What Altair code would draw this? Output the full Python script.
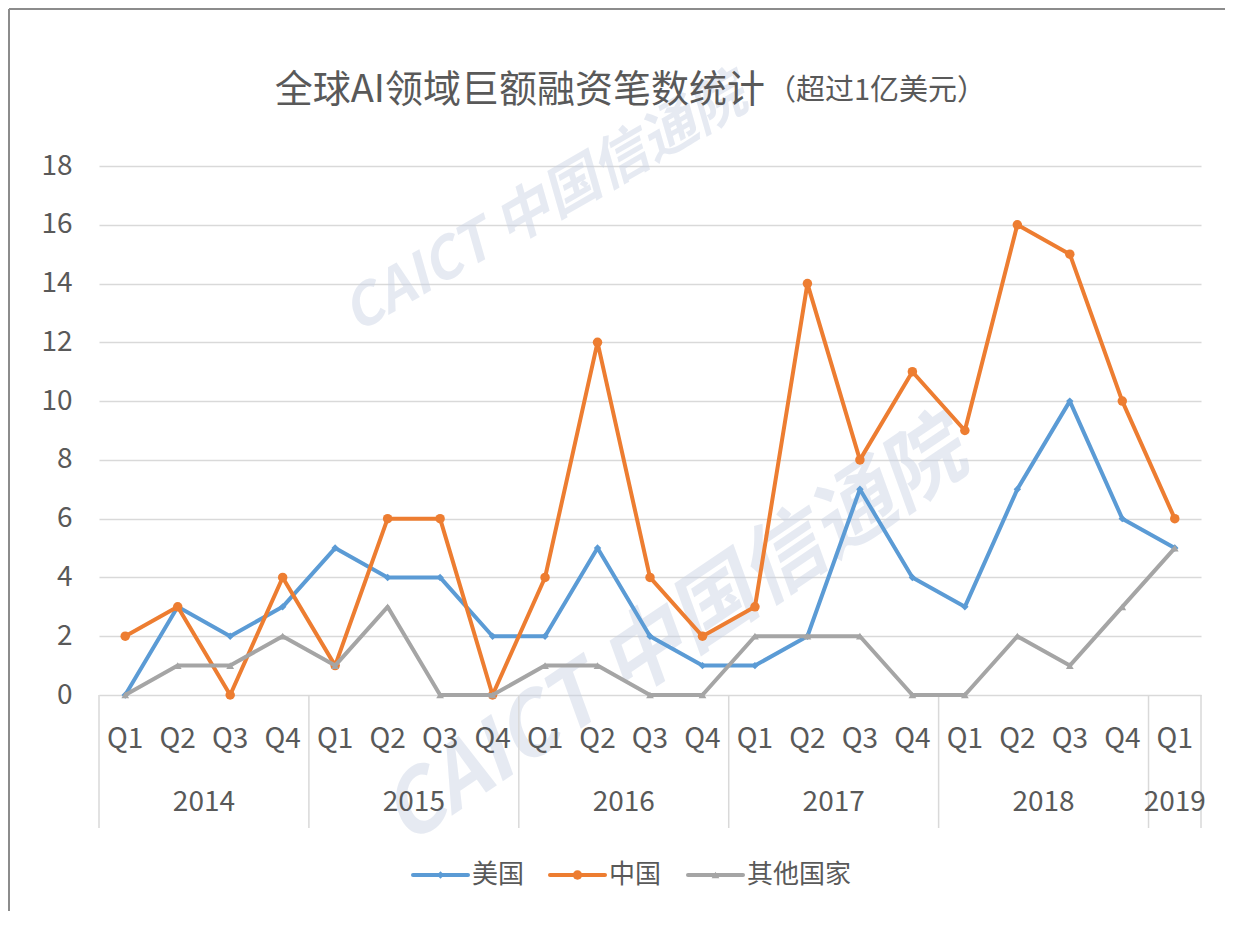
import altair as alt
import pandas as pd

# ---- data ----
quarters = ["Q1", "Q2", "Q3", "Q4"] * 5 + ["Q1"]
years = ["2014", "2015", "2016", "2017", "2018", "2019"]
year_counts = [4, 4, 4, 4, 4, 1]
series_names = ["美国", "中国", "其他国家"]
usa = [0, 3, 2, 3, 5, 4, 4, 2, 2, 5, 2, 1, 1, 2, 7, 4, 3, 7, 10, 6, 5]
china = [2, 3, 0, 4, 1, 6, 6, 0, 4, 12, 4, 2, 3, 14, 8, 11, 9, 16, 15, 10, 6]
other = [0, 1, 1, 2, 1, 3, 0, 0, 1, 1, 0, 0, 2, 2, 2, 0, 0, 2, 1, 3, 5]
y_ticks = list(range(0, 19, 2))

colors = ["#5B9BD5", "#ED7D31", "#A5A5A5"]
shapes = ["diamond", "circle", "triangle-up"]
sizes = [55, 90, 60]
FONT = "Microsoft YaHei, Noto Sans CJK SC"
TXT = "#595959"

W, H = 1102, 529
n = len(quarters)
xscale = alt.Scale(domain=[-0.5, n - 0.5], nice=False)
yscale = alt.Scale(domain=[0, 18], nice=False)

layers = []

# axis frame / grid via y axis
base_y = alt.Chart(pd.DataFrame({"v": [0]})).mark_point(opacity=0).encode(
    y=alt.Y("v:Q", scale=yscale,
            axis=alt.Axis(values=y_ticks, grid=True, gridColor="#D9D9D9", gridWidth=1.5,
                          domain=False, ticks=False, title=None, labelFontSize=28,
                          labelColor=TXT, labelFont=FONT, labelPadding=27)),
    x=alt.X("v:Q", scale=xscale, axis=None),
)
layers.append(base_y)

# watermarks
wm = pd.DataFrame({"t": ["CAICT 中国信通院"], "px": [675 - 99], "py": [635 - 166]})
layers.append(alt.Chart(wm).mark_text(fontSize=84, fontWeight="bold", fontStyle="italic",
                                      angle=326, fill="#C9D2E4", opacity=0.45, font=FONT).encode(
    x=alt.X("px:Q", scale=None), y=alt.Y("py:Q", scale=None), text="t:N"))
wm2 = pd.DataFrame({"t": ["CAICT 中国信通院"], "px": [545 - 99], "py": [205 - 166]})
layers.append(alt.Chart(wm2).mark_text(fontSize=56, fontWeight="bold", fontStyle="italic",
                                       angle=330, fill="#C9D2E4", opacity=0.45, font=FONT).encode(
    x=alt.X("px:Q", scale=None), y=alt.Y("py:Q", scale=None), text="t:N"))

# year separators
bounds = [-0.5]
acc = -0.5
for c in year_counts:
    acc += c
    bounds.append(acc)
sep = pd.DataFrame({"b": bounds})
layers.append(alt.Chart(sep).mark_rule(color="#D9D9D9", strokeWidth=1.5).encode(
    x=alt.X("b:Q", scale=xscale, axis=None), y=alt.value(H), y2=alt.value(H + 133)))

# series
for name, vals, col, shp, sz in zip(series_names, [usa, china, other], colors, shapes, sizes):
    d = pd.DataFrame({"i": list(range(n)), "v": vals, "s": name})
    layers.append(alt.Chart(d).mark_line(color=col, strokeWidth=4, strokeJoin="round").encode(
        x=alt.X("i:Q", scale=xscale, axis=None), y=alt.Y("v:Q", scale=yscale)))
    layers.append(alt.Chart(d).mark_point(color=col, filled=True, opacity=1, shape=shp, size=sz).encode(
        x=alt.X("i:Q", scale=xscale, axis=None), y=alt.Y("v:Q", scale=yscale)))

# quarter labels
qd = pd.DataFrame({"i": list(range(n)), "q": quarters})
layers.append(alt.Chart(qd).mark_text(fontSize=28, color=TXT, font=FONT, baseline="middle").encode(
    x=alt.X("i:Q", scale=xscale, axis=None), y=alt.value(574), text="q:N"))

# year labels
mids = [(bounds[k] + bounds[k + 1]) / 2 for k in range(len(years))]
yd = pd.DataFrame({"m": mids, "y": years})
layers.append(alt.Chart(yd).mark_text(fontSize=28, color=TXT, font=FONT, baseline="middle").encode(
    x=alt.X("m:Q", scale=xscale, axis=None), y=alt.value(637), text="y:N"))

# title (two sizes)
layers.append(alt.Chart(pd.DataFrame({"t": ["全球AI领域巨额融资笔数统计"]})).mark_text(
    fontSize=38, color=TXT, font=FONT, align="right", baseline="alphabetic").encode(
    x=alt.value(765 - 99), y=alt.value(102 - 166), text="t:N"))
layers.append(alt.Chart(pd.DataFrame({"t": ["（超过1亿美元）"]})).mark_text(
    fontSize=29, color=TXT, font=FONT, align="left", baseline="alphabetic").encode(
    x=alt.value(767 - 99), y=alt.value(100 - 166), text="t:N"))

# legend (manual, line + marker)
leg_x = [413 - 99, 550 - 99, 688 - 99]
leg_y = 875 - 166
for name, col, shp, sz, lx in zip(series_names, colors, shapes, sizes, leg_x):
    one = pd.DataFrame({"t": [name]})
    layers.append(alt.Chart(one).mark_rule(color=col, strokeWidth=4, strokeCap="round").encode(
        x=alt.value(lx), x2=alt.value(lx + 55), y=alt.value(leg_y)))
    layers.append(alt.Chart(one).mark_point(color=col, filled=True, opacity=1, shape=shp, size=sz).encode(
        x=alt.value(lx + 27.5), y=alt.value(leg_y)))
    layers.append(alt.Chart(one).mark_text(fontSize=26, color=TXT, font=FONT, align="left",
                                           baseline="middle").encode(
        x=alt.value(lx + 59), y=alt.value(leg_y), text="t:N"))

# outer border (left and top)
layers.append(alt.Chart(pd.DataFrame({"a": [0]})).mark_rule(color="#8C8C8C", strokeWidth=2).encode(
    x=alt.value(-90), y=alt.value(-157), y2=alt.value(H + 216)))
layers.append(alt.Chart(pd.DataFrame({"a": [0]})).mark_rule(color="#8C8C8C", strokeWidth=2).encode(
    x=alt.value(-90), x2=alt.value(W + 24), y=alt.value(-157)))

chart = alt.layer(*layers).properties(
    width=W, height=H,
    autosize=alt.AutoSizeParams(type="none"),
    padding={"left": 91, "top": 158, "right": 24, "bottom": 216},
    background="white",
).configure_view(stroke=None)

chart.save("out.html", embed_options={"renderer": "svg", "actions": False})
